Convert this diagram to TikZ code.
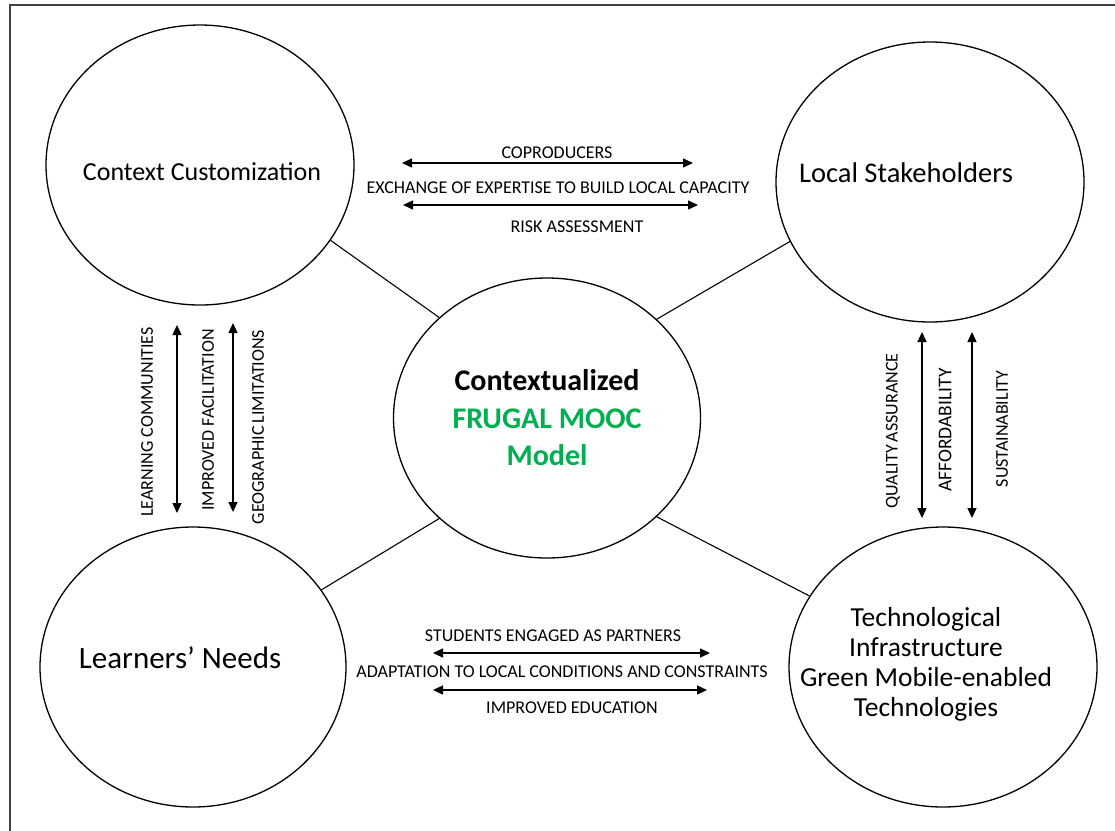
\documentclass[tikz,border=0pt]{standalone}
\usepackage{fontspec}
\setmainfont{Carlito}
\usetikzlibrary{shapes.geometric}
\usetikzlibrary{arrows.meta}
\definecolor{moocgreen}{HTML}{00B050}
\tikzset{
  bubble/.style={draw, ellipse, line width=1.3pt, minimum width=308pt, minimum height=280pt, inner sep=0pt},
  bubbletext/.style={font=\fontsize{26}{29}\selectfont, align=center, inner sep=0pt},
  tag/.style={font=\fontsize{18}{20}\selectfont, inner sep=0pt},
  twoway/.style={line width=1.3pt, >={Triangle[length=10pt,width=9pt]}, <->},
  spoke/.style={line width=1.1pt}
}

\begin{document}
\begin{tikzpicture}[x=1pt, y=-1pt]
  \useasboundingbox (0,0) rectangle (1115,830);
  \draw [line width=2pt, black!75] (10,5) rectangle (1125,845);

  % the five bubbles
  \node [bubble, label={[bubbletext, xshift=2pt, yshift=-7pt]center:Context Customization}] (cc) at (200,165) {};
  \node [bubble, label={[bubbletext, font=\fontsize{28.5}{31}\selectfont, xshift=-24pt, yshift=9pt]center:Local Stakeholders}] (ls) at (930,182) {};
  \node [bubble, minimum width=306pt, label={[bubbletext, font=\fontsize{31}{34}\selectfont, xshift=-13pt, yshift=9pt]center:Learners’ Needs}] (ln) at (193,667) {};
  \node [bubble, label={[bubbletext, font=\fontsize{27.5}{30}\selectfont, xshift=-17pt, yshift=3pt]center:Technological\\Infrastructure\\Green Mobile-enabled\\Technologies}] (ti) at (943,667) {};
  \node [bubble, minimum width=307pt, align=center, font=\bfseries\fontsize{30}{37.5}\selectfont] (mooc) at (547,418)
    {Contextualized\\\textcolor{moocgreen}{FRUGAL MOOC}\\\textcolor{moocgreen}{Model}};

  \draw [spoke] (cc.-30) -- (mooc.137.5);
  \draw [spoke] (ls.-157) -- (mooc.42);
  \draw [spoke] (ln.31) -- (mooc.-137.7);
  \draw [spoke] (ti.152.6) -- (mooc.-42);

  % top
  \coordinate (top1w) at (402,163); \coordinate (top1e) at (693,163);
  \coordinate (top2w) at (403,205); \coordinate (top2e) at (698,205);
  \node [tag] (coprod) at (557,153) {COPRODUCERS};
  \node [tag] (exch) at (558,188) {EXCHANGE OF EXPERTISE TO BUILD LOCAL CAPACITY};
  \node [tag] (risk) at (577,227) {RISK ASSESSMENT};
  \draw [twoway] (top1w) -- (top1e);
  \draw [twoway] (top2w) -- (top2e);

  % bottom
  \coordinate (bot1w) at (433,653); \coordinate (bot1e) at (710,653);
  \coordinate (bot2w) at (433,690); \coordinate (bot2e) at (707,690);
  \node [tag] (students) at (553,636) {STUDENTS ENGAGED AS PARTNERS};
  \node [tag] (adapt) at (562,672) {ADAPTATION TO LOCAL CONDITIONS AND CONSTRAINTS};
  \node [tag] (educ) at (572,708) {IMPROVED EDUCATION};
  \draw [twoway] (bot1w) -- (bot1e);
  \draw [twoway] (bot2w) -- (bot2e);

  % left
  \coordinate (lft1n) at (177,325); \coordinate (lft1s) at (177,513);
  \coordinate (lft2n) at (233,323); \coordinate (lft2s) at (233,512);
  \node [tag, rotate=90] (learning) at (147,422) {LEARNING COMMUNITIES};
  \node [tag, rotate=90] (facil) at (208,420) {IMPROVED FACILITATION};
  \node [tag, rotate=90] (geo) at (258,427) {GEOGRAPHIC\,LIMITATIONS};
  \draw [twoway] (lft1n) -- (lft1s);
  \draw [twoway] (lft2n) -- (lft2s);

  % right
  \coordinate (rgt1n) at (922,332); \coordinate (rgt1s) at (922,518);
  \coordinate (rgt2n) at (972,332); \coordinate (rgt2s) at (972,518);
  \node [tag, rotate=90] (quality) at (893,431) {QUALITY\,ASSURANCE};
  \node [tag, rotate=90, font=\fontsize{19.5}{22}\selectfont] (afford) at (945,430) {AFFORDABILITY};
  \node [tag, rotate=90] (sustain) at (1002,429) {SUSTAINABILITY};
  \draw [twoway] (rgt1n) -- (rgt1s);
  \draw [twoway] (rgt2n) -- (rgt2s);
\end{tikzpicture}
\end{document}
